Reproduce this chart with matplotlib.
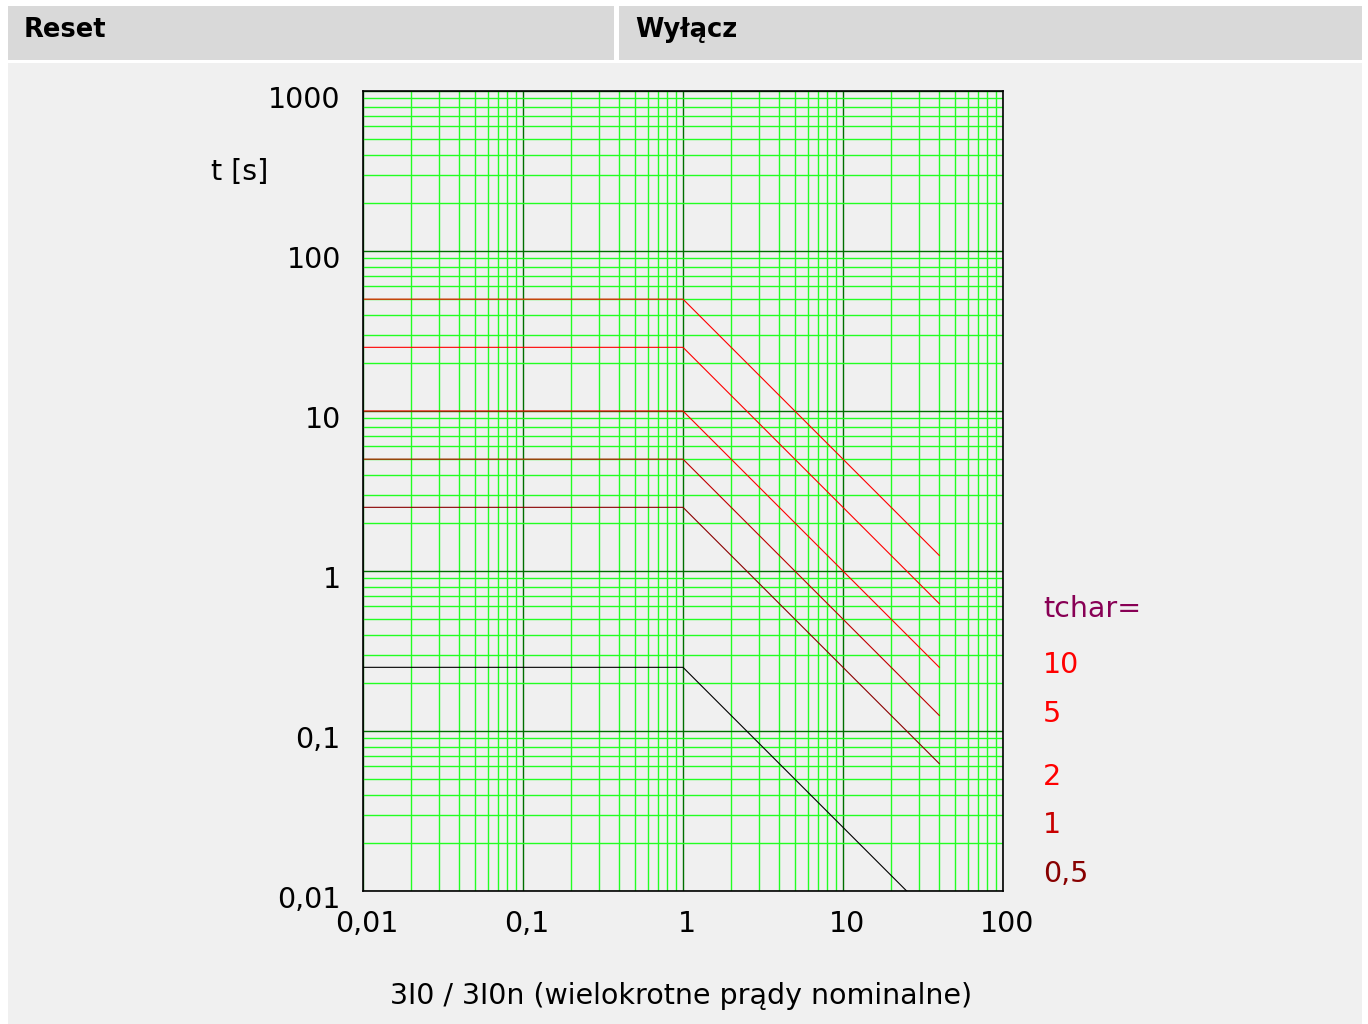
import numpy as np
import matplotlib.pyplot as plt
from matplotlib.patches import Rectangle
from matplotlib.ticker import LogLocator, NullFormatter
from matplotlib.transforms import ScaledTranslation

# Data (reset branch flat below I=1, trip branch t ~ 1/I)
current = [0.01, 1, 40]
curve_t = {
    '10':   [50, 50, 1.25],
    '5':    [25, 25, 0.625],
    '2':    [10, 10, 0.25],
    '1':    [5, 5, 0.125],
    '0,5':  [2.5, 2.5, 0.0625],
    '0,05': [0.25, 0.25, 0.00625],
}
curve_colors = ['#ff0000', '#ff0000', '#ff0000', '#c00000', '#8a0000', '#000000']
legend_labels = ['10', '5', '2', '1', '0,5']
legend_colors = ['#ff0000', '#ff0000', '#ff0000', '#c80000', '#880000']
legend_y = [665, 714, 777, 825, 874]

x_ticks = [0.01, 0.1, 1, 10, 100]
x_ticklabels = ['0,01', '0,1', '1', '10', '100']
y_ticks = [0.01, 0.1, 1, 10, 100, 1000]
y_ticklabels = ['0,01', '0,1', '1', '10', '100', '1000']

W, H = 1368, 1024
FS = 20.5
fig = plt.figure(figsize=(W / 100, H / 100), dpi=100, facecolor='white')

def px_rect(x0, y0, x1, y1, color):
    fig.patches.append(Rectangle((x0 / W, 1 - y1 / H), (x1 - x0) / W, (y1 - y0) / H,
                                 transform=fig.transFigure, facecolor=color,
                                 edgecolor='none', zorder=-10))

# header cells and panel
px_rect(8, 6, 614, 60, '#d9d9d9')
px_rect(619, 6, 1362, 60, '#d9d9d9')
px_rect(8, 63, 1362, 1024, '#f0f0f0')
fig.text(24 / W, 1 - 30 / H, 'Reset', fontsize=18.5, fontweight='bold', va='center', ha='left')
fig.text(635 / W, 1 - 30 / H, 'Wyłącz', fontsize=18.5, fontweight='bold', va='center', ha='left')

ax = fig.add_axes([363 / W, 1 - 891 / H, 640 / W, 800 / H])
ax.set_facecolor('#f0f0f0')
ax.set_xscale('log')
ax.set_yscale('log')
ax.set_xlim(0.01, 100)
ax.set_ylim(0.01, 1000)

for (name, t), c in zip(curve_t.items(), curve_colors):
    ax.plot(current, t, color=c, lw=0.8, zorder=3)

ax.xaxis.set_minor_locator(LogLocator(base=10, subs=np.arange(2, 10), numticks=50))
ax.yaxis.set_minor_locator(LogLocator(base=10, subs=np.arange(2, 10), numticks=50))
ax.xaxis.set_minor_formatter(NullFormatter())
ax.yaxis.set_minor_formatter(NullFormatter())
ax.grid(which='minor', color='#22ff22', lw=1.0, zorder=1)
ax.grid(which='major', color='#006e00', lw=1.0, zorder=2)
ax.set_axisbelow(True)

ax.set_xticks(x_ticks, x_ticklabels, fontsize=FS)
ax.set_yticks(y_ticks, y_ticklabels, fontsize=FS)
ax.tick_params(which='both', length=0)
ax.tick_params(axis='x', pad=14)
ax.tick_params(axis='y', pad=16)
for lab in ax.get_xticklabels():
    lab.set_transform(lab.get_transform() + ScaledTranslation(0.04, 0, fig.dpi_scale_trans))
for lab in ax.get_yticklabels():
    lab.set_transform(lab.get_transform() + ScaledTranslation(0, -0.06, fig.dpi_scale_trans))

for s in ax.spines.values():
    s.set_color('black')
    s.set_linewidth(1.2)
    s.set_zorder(4)

fig.text(240 / W, 1 - 172 / H, 't [s]', fontsize=FS, ha='center', va='center')
fig.text(681 / W, 1 - 996 / H, '3I0 / 3I0n (wielokrotne prądy nominalne)',
         fontsize=FS, ha='center', va='center')

fig.text(1043 / W, 1 - 609 / H, 'tchar=', fontsize=FS, color='#880055', ha='left', va='center')
for lab, c, y in zip(legend_labels, legend_colors, legend_y):
    fig.text(1043 / W, 1 - y / H, lab, fontsize=FS, color=c, ha='left', va='center')

fig.savefig('out.png', dpi=100, facecolor='white')
